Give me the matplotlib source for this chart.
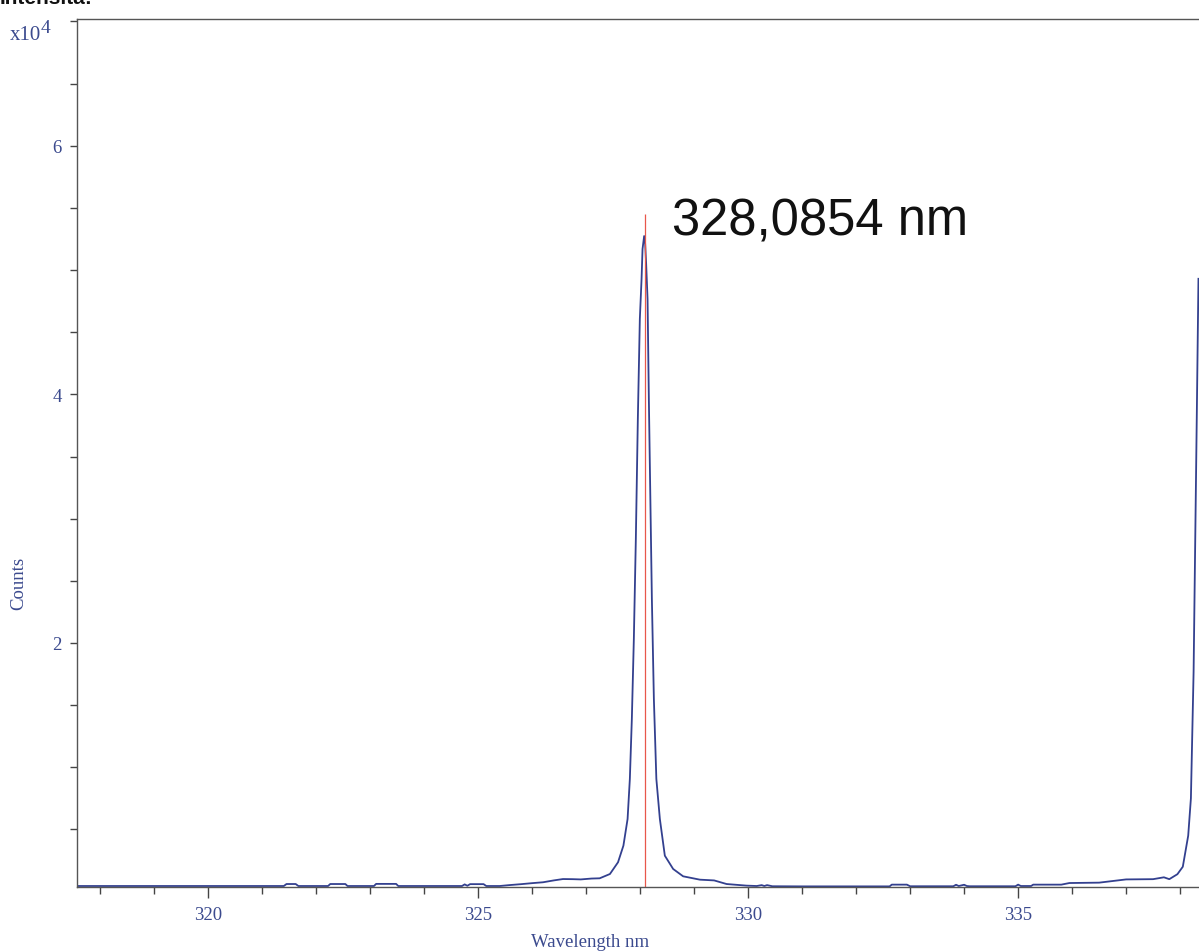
import numpy as np
import matplotlib.pyplot as plt
from matplotlib.ticker import MultipleLocator, FixedLocator

# Spettro (lunghezza d'onda in nm, conteggi)
wavelength = [317.50, 321.40, 321.45, 321.62, 321.67, 322.22, 322.26, 322.54, 322.58,
              323.07, 323.11, 323.48, 323.52, 324.70, 324.75, 324.80, 324.85, 325.10,
              325.15, 325.40, 325.57, 325.80, 326.00, 326.20, 326.40, 326.57, 326.75,
              326.90, 327.10, 327.25, 327.44, 327.59, 327.69, 327.767, 327.809, 327.846,
              327.883, 327.920, 327.957, 327.994, 328.026, 328.044, 328.074, 328.093,
              328.111, 328.137, 328.161, 328.189, 328.217, 328.254, 328.300, 328.365,
              328.457, 328.611, 328.796, 329.106, 329.37, 329.60, 329.97, 330.16,
              330.25, 330.30, 330.35, 330.45, 331.00, 332.62, 332.66, 332.94, 333.00,
              333.80, 333.85, 333.90, 334.00, 334.05, 334.10, 334.95, 335.00, 335.05,
              335.24, 335.28, 335.80, 335.95, 336.50, 337.00, 337.50, 337.70, 337.80,
              337.95, 338.05, 338.15, 338.20, 338.25, 338.28, 338.31, 338.34]
counts = [450, 450, 610, 610, 450, 450, 610, 610, 450,
          450, 620, 620, 450, 450, 580, 470, 600, 600,
          450, 450, 520, 600, 680, 750, 900, 1010, 1000,
          980, 1050, 1070, 1415, 2360, 3700, 5840, 9060, 13890,
          20320, 28370, 38020, 46070, 49280, 51700, 52740, 52100,
          50490, 47670, 39630, 31580, 23540, 15490, 9060, 5840,
          2890, 1820, 1230, 960, 900, 610, 480, 450,
          520, 450, 520, 430, 420, 420, 560, 560, 430,
          430, 550, 450, 550, 450, 430, 430, 560, 450,
          450, 560, 560, 690, 720, 980, 1000, 1150, 1000,
          1400, 2000, 4500, 7500, 17700, 28200, 38600, 49300]

peak_nm = 328.0854
peak_label = "328,0854 nm"
y_ticks = [20000, 40000, 60000]
y_tick_labels = ["2", "4", "6"]
x_ticks = [320, 325, 330, 335]

blue = '#33408f'
text_blue = '#3b4a8e'

fig = plt.figure(figsize=(11.99, 9.53), dpi=100)
ax = fig.add_axes([77 / 1199, 1 - 888 / 953, 1 - 77 / 1199, (888 - 20) / 953])

ax.plot(wavelength, counts, color=blue, lw=1.3)
ax.vlines(peak_nm, 370, 54500, color='#e8574a', lw=0.9)

ax.set_xlim(317.57, 338.35)
ax.set_ylim(370, 70200)

ax.text(328.587, 52900, peak_label, fontsize=36.5, family='Liberation Sans',
        color='#111111', va='baseline', ha='left')

# Assi
ax.xaxis.set_major_locator(FixedLocator(x_ticks))
ax.xaxis.set_minor_locator(MultipleLocator(1))
ax.set_yticks(y_ticks)
ax.set_yticklabels(y_tick_labels)
ax.yaxis.set_minor_locator(MultipleLocator(5000))

ax.tick_params(axis='x', which='major', direction='out', length=8, width=1,
               color='#444444', labelsize=13.5, labelcolor=text_blue, pad=6)
ax.tick_params(axis='x', which='minor', direction='out', length=5, width=1,
               color='#444444')
ax.tick_params(axis='y', which='both', direction='out', length=5, width=1,
               color='#444444', labelsize=13.5, labelcolor=text_blue, pad=6)
for lab in ax.get_xticklabels() + ax.get_yticklabels():
    lab.set_family('Liberation Serif')

for s in ['left', 'bottom', 'top']:
    ax.spines[s].set_color('#555555')
    ax.spines[s].set_linewidth(1.0)
ax.spines['right'].set_visible(False)

fig.text(590 / 1199, 1 - 943 / 953, 'Wavelength nm', family='Liberation Serif',
         fontsize=13.5, color=text_blue, ha='center', va='center')
fig.text(19 / 1199, 1 - 583 / 953, 'Counts', family='Liberation Serif',
         fontsize=13.5, color=text_blue, ha='center', va='center', rotation=90)
fig.text(10 / 1199, 1 - 40 / 953, 'x10', family='Liberation Serif',
         fontsize=15, color=text_blue, ha='left', va='baseline')
fig.text(41 / 1199, 1 - 33 / 953, '4', family='Liberation Serif',
         fontsize=14, color=text_blue, ha='left', va='baseline')
fig.text(0 / 1199, 1 - 4 / 953, 'Intensità:', family='Liberation Sans',
         fontsize=15, color='#111111', ha='left', va='baseline', weight='bold')

fig.savefig('out.png', dpi=100)
